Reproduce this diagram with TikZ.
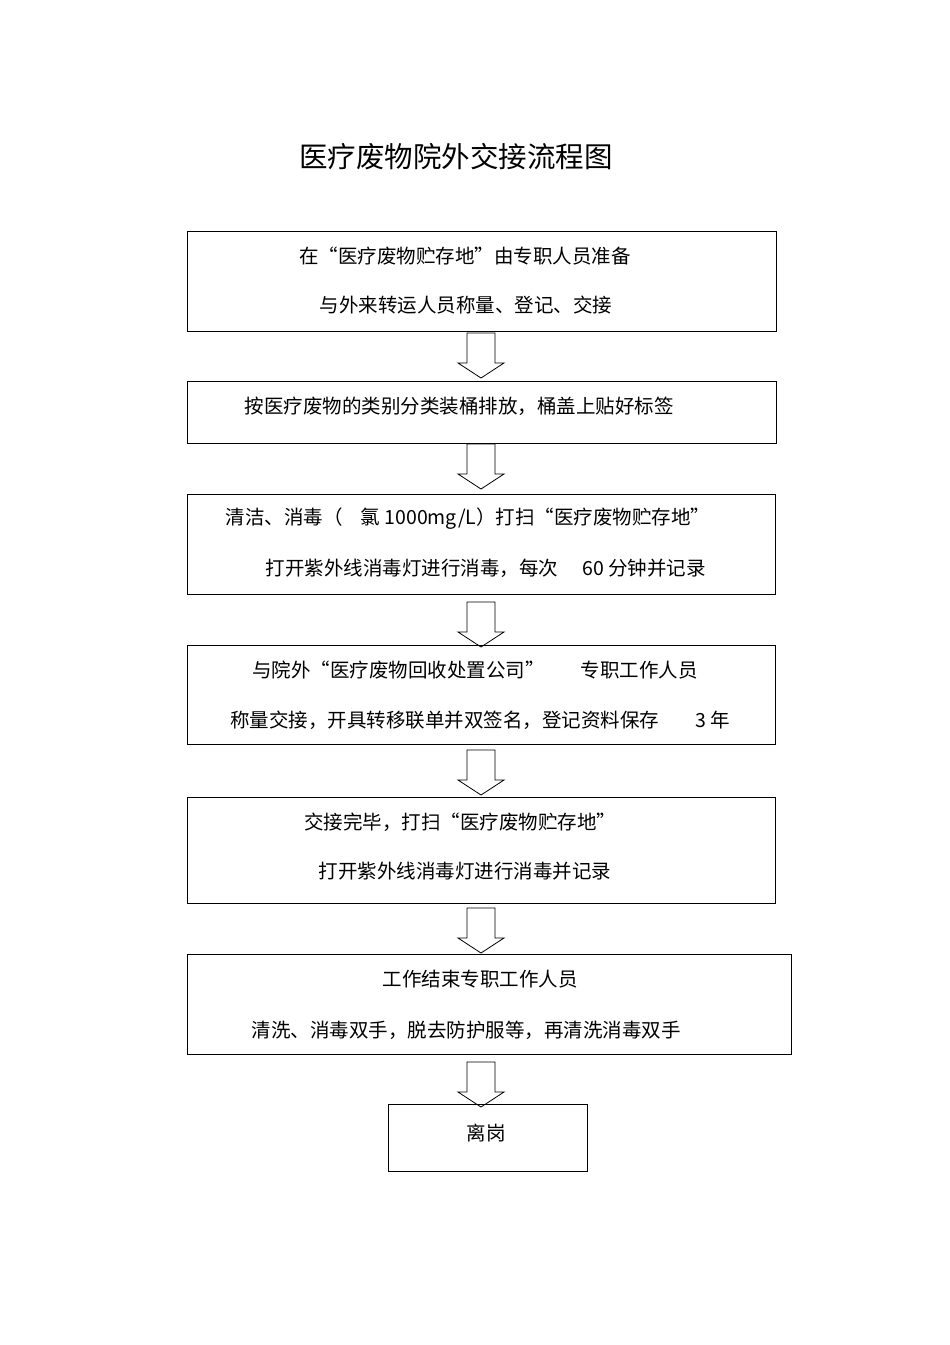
\documentclass[tikz,border=0pt]{standalone}
\usepackage{fontspec}
\setmainfont{Liberation Sans}
\newfontfamily\cjk{Noto Sans CJK SC}
\begin{document}
\begin{tikzpicture}[x=1pt,y=-1pt,
 box/.style={draw,line width=0.8pt},
 txt/.style={font=\cjk\fontsize{19.5}{22}\selectfont,inner sep=0pt,anchor=center},
 harrow/.pic={\draw[line width=0.8pt] (-14,0)--(14,0)--(14,30)--(23,30)--(0,45)--(-23,30)--(-14,30)--cycle;}]
\useasboundingbox (0,0) rectangle (950,1345);
\node[font=\cjk\fontsize{28.5}{32}\selectfont] (title) at (456,157) {医疗废物院外交接流程图};
\draw[box] (187,231) rectangle (776,331);
\draw[box] (187,381) rectangle (776,443);
\draw[box] (187,494) rectangle (775,594);
\draw[box] (187,645) rectangle (775,744);
\draw[box] (187,797) rectangle (775,903);
\draw[box] (187,954) rectangle (791,1054);
\draw[box] (388,1104) rectangle (587,1171);
\node[txt] (t1a) at (465,256) {在“医疗废物贮存地”由专职人员准备};
\node[txt] (t1b) at (466,305) {与外来转运人员称量、登记、交接};
\node[txt] (t2) at (459,406) {按医疗废物的类别分类装桶排放，桶盖上贴好标签};
\node[txt] (t3a) at (468,519) {清洁、消毒（\hspace{18pt}氯 1000mg/L）打扫“医疗废物贮存地”};
\node[txt] (t3b) at (486,568) {打开紫外线消毒灯进行消毒，每次\hspace{24pt}60 分钟并记录};
\node[txt] (t4a) at (475,670) {与院外“医疗废物回收处置公司”\hspace{36pt}专职工作人员};
\node[txt] (t4b) at (480,720) {称量交接，开具转移联单并双签名，登记资料保存\hspace{36pt}3 年};
\node[txt] (t5a) at (460,822) {交接完毕，打扫“医疗废物贮存地”};
\node[txt] (t5b) at (465,871) {打开紫外线消毒灯进行消毒并记录};
\node[txt] (t6a) at (480,979) {工作结束专职工作人员};
\node[txt] (t6b) at (466,1030) {清洗、消毒双手，脱去防护服等，再清洗消毒双手};
\node[txt] (t7) at (486,1133) {离岗};
\pic at (481,333) {harrow};
\pic at (481,444) {harrow};
\pic at (481,602) {harrow};
\pic at (481,750) {harrow};
\pic at (481,908) {harrow};
\pic at (481,1062) {harrow};
\end{tikzpicture}
\end{document}
